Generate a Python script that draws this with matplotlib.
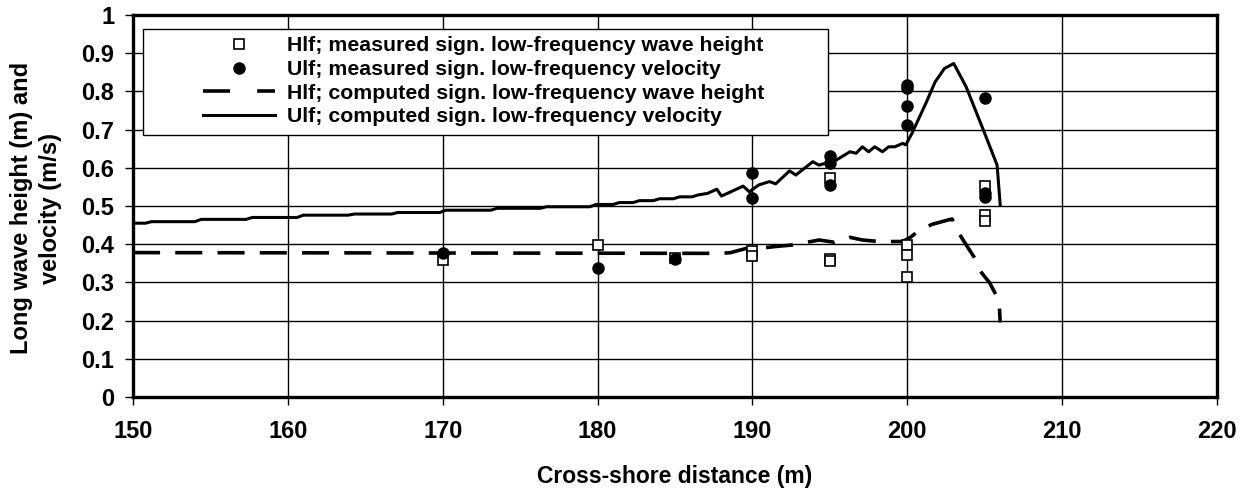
import matplotlib.pyplot as plt
from matplotlib.lines import Line2D
from matplotlib.patches import Rectangle

# measured significant low-frequency wave height (m)
hlf_meas_x = [170, 180, 185, 190, 190, 195, 195, 195, 200, 200, 200, 205, 205, 205]
hlf_meas_y = [0.358, 0.398, 0.365, 0.382, 0.370, 0.572, 0.362, 0.355,
              0.398, 0.372, 0.313, 0.552, 0.476, 0.461]

# measured significant low-frequency velocity (m/s)
ulf_meas_x = [170, 180, 185, 190, 190, 195, 195, 195, 200, 200, 200, 200, 205, 205, 205]
ulf_meas_y = [0.378, 0.337, 0.360, 0.586, 0.520, 0.632, 0.612, 0.555,
              0.818, 0.808, 0.762, 0.713, 0.783, 0.534, 0.524]

# computed wave height
hlf_comp_x = [150.0, 188.0, 188.6, 189.6, 190.2, 191.5, 192.6, 194.3, 195.3, 196.3,
              197.1, 198.2, 199.7, 200.2, 200.8, 201.6, 202.6, 202.9, 203.2, 203.7,
              204.3, 204.8, 205.3, 205.8, 205.95, 206.0]
hlf_comp_y = [0.378, 0.376, 0.378, 0.389, 0.388, 0.394, 0.398, 0.411, 0.405, 0.418,
              0.411, 0.407, 0.407, 0.418, 0.437, 0.452, 0.463, 0.466, 0.437, 0.405,
              0.367, 0.325, 0.300, 0.262, 0.235, 0.195]

# computed velocity
ulf_comp_x = [150.0, 150.8, 151.2, 154.0, 154.4, 157.3, 157.7, 160.6, 161.0, 163.9,
              164.3, 166.7, 167.1, 169.8, 170.2, 173.1, 173.5, 176.3, 176.7, 179.5,
              179.9, 181.0, 181.4, 182.3, 182.7, 183.6, 184.0, 184.9, 185.3, 186.1,
              186.5, 187.1, 187.7, 188.0, 189.4, 189.8, 190.4, 191.1, 191.5, 192.4,
              192.8, 193.9, 194.3, 195.4, 196.3, 196.7, 197.1, 197.5, 197.9, 198.4,
              198.8, 199.2, 199.7, 199.9, 200.3, 201.2, 201.8, 202.4, 203.0, 203.8,
              205.0, 205.8, 206.0]
ulf_comp_y = [0.455, 0.455, 0.459, 0.459, 0.465, 0.465, 0.470, 0.470, 0.476, 0.476,
              0.479, 0.479, 0.483, 0.483, 0.489, 0.489, 0.494, 0.494, 0.498, 0.498,
              0.504, 0.504, 0.509, 0.509, 0.514, 0.514, 0.519, 0.519, 0.524, 0.524,
              0.529, 0.533, 0.544, 0.526, 0.552, 0.537, 0.555, 0.564, 0.558, 0.592,
              0.581, 0.616, 0.607, 0.620, 0.642, 0.638, 0.655, 0.642, 0.655, 0.642,
              0.655, 0.655, 0.664, 0.660, 0.690, 0.769, 0.825, 0.860, 0.873, 0.812,
              0.690, 0.607, 0.503]

labels = [
    "Hlf; measured sign. low-frequency wave height",
    "Ulf; measured sign. low-frequency velocity",
    "Hlf; computed sign. low-frequency wave height",
    "Ulf; computed sign. low-frequency velocity",
]

plt.rcParams["font.family"] = ["Liberation Sans", "DejaVu Sans"]
plt.rcParams["font.weight"] = "bold"

fig = plt.figure(figsize=(12.48, 4.93), dpi=100)
ax = fig.add_axes([133 / 1248, 96 / 493, 1084 / 1248, 382 / 493])

ax.plot(ulf_comp_x, ulf_comp_y, color="black", lw=2.2, zorder=3)
ax.plot(hlf_comp_x, hlf_comp_y, color="black", lw=2.6, dashes=(7.5, 4.2), zorder=3)
ax.plot(hlf_meas_x, hlf_meas_y, ls="none", marker="s", ms=6.5, mfc="white",
        mec="black", mew=1.2, zorder=4)
ax.plot(ulf_meas_x, ulf_meas_y, ls="none", marker="o", ms=8, color="black", zorder=4)

ax.set_xlim(150, 220)
ax.set_ylim(0, 1)
ax.set_xticks(range(150, 221, 10))
yticks = [i / 10 for i in range(11)]
ax.set_yticks(yticks)
ax.set_yticklabels(["0"] + [f"{v:.1f}" for v in yticks[1:-1]] + ["1"])
ax.tick_params(axis="both", direction="out", length=5.5, width=1, labelsize=17)
ax.tick_params(axis="y", pad=8)
ax.tick_params(axis="x", pad=11)
for lab in ax.get_xticklabels() + ax.get_yticklabels():
    lab.set_fontweight("bold")

ax.grid(True, color="black", lw=1.0)
ax.set_axisbelow(True)
for sp in ax.spines.values():
    sp.set_linewidth(2.4)

ax.set_xlabel("Cross-shore distance (m)", fontsize=16.5, fontweight="bold")
ax.xaxis.set_label_coords(0.5, -0.178)
fig.text(36 / 1248, 0.578, "Long wave height (m) and\nvelocity (m/s)", rotation=90,
         ha="center", va="center", multialignment="center", fontsize=17,
         fontweight="bold", linespacing=1.3)

# legend frame drawn as a plain box, legend entries placed inside it
ax.add_patch(Rectangle((0.0092, 0.686), 0.632, 0.277, transform=ax.transAxes,
                       facecolor="white", edgecolor="black", lw=1.0, zorder=5))
handles = [
    Line2D([], [], ls="none", marker="s", ms=6.5, mfc="white", mec="black", mew=1.2),
    Line2D([], [], ls="none", marker="o", ms=8, color="black"),
    Line2D([], [], color="black", lw=2.6, dashes=(7.5, 7.5)),
    Line2D([], [], color="black", lw=2.2),
]
leg = ax.legend(handles, labels, loc="upper left", bbox_to_anchor=(0.0646, 0.944),
                frameon=False, borderpad=0, borderaxespad=0, handlelength=3.4,
                handletextpad=0.55, labelspacing=0.22,
                prop={"size": 15.3, "weight": "bold"})
leg.set_zorder(6)

fig.savefig("out.png", dpi=100)
